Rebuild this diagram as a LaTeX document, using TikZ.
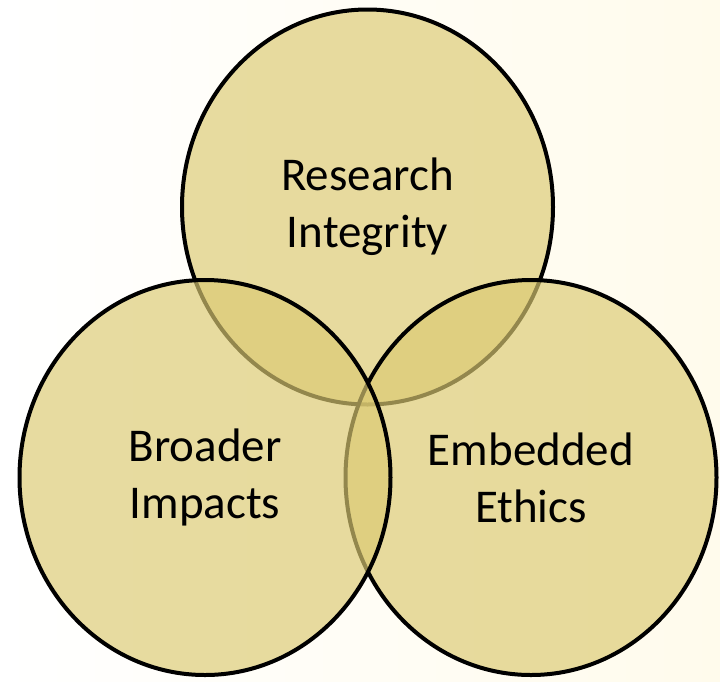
\documentclass[tikz,border=0pt]{standalone}
\usepackage{fontspec}
\setmainfont{Carlito}
\usetikzlibrary{shapes.geometric}

\definecolor{ringfill}{RGB}{220,202,115}
\definecolor{paper}{RGB}{255,251,236}

\tikzset{
  ring/.style={shape=ellipse, draw=black, line width=4pt, fill=ringfill,
    fill opacity=0.67, text opacity=1, minimum width=371pt,
    minimum height=395pt, inner sep=0pt, align=center,
    font=\fontsize{47}{57}\selectfont}
}

\begin{document}
\begin{tikzpicture}[x=1pt,y=-1pt]
  % background
  \shade[left color=white, right color=paper] (0,0) rectangle (720,681);
  \useasboundingbox (0,0) rectangle (720,681);

  % the three circles, top first, left last
  \node[ring] (integrity) at (367.5,207) {Research\\Integrity};
  \node[ring] (ethics) at (531,477.5) {Embedded\\Ethics};
  \node[ring] (impacts) at (205,477.5) {Broader\\Impacts};
\end{tikzpicture}
\end{document}
